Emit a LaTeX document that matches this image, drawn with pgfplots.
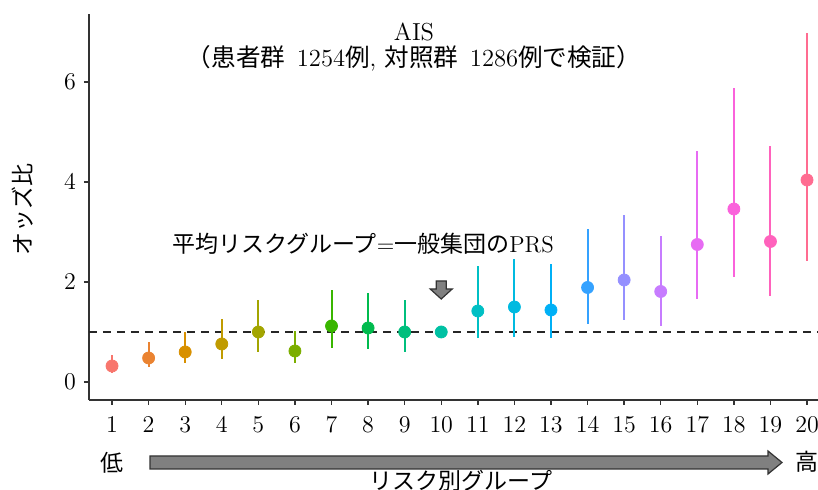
\documentclass[border=0pt]{standalone}
\usepackage{pgfplots}
\pgfplotsset{compat=1.18}
\usepackage{fontspec}
\newfontfamily\jp{Noto Sans CJK JP}
\definecolor{c1}{HTML}{F8766D}
\definecolor{c2}{HTML}{EA8331}
\definecolor{c3}{HTML}{D89000}
\definecolor{c4}{HTML}{C09B00}
\definecolor{c5}{HTML}{A3A500}
\definecolor{c6}{HTML}{7CAE00}
\definecolor{c7}{HTML}{39B600}
\definecolor{c8}{HTML}{00BB4E}
\definecolor{c9}{HTML}{00BF7D}
\definecolor{c10}{HTML}{00C1A3}
\definecolor{c11}{HTML}{00BFC4}
\definecolor{c12}{HTML}{00BAE0}
\definecolor{c13}{HTML}{00B0F6}
\definecolor{c14}{HTML}{35A2FF}
\definecolor{c15}{HTML}{9590FF}
\definecolor{c16}{HTML}{C77CFF}
\definecolor{c17}{HTML}{E76BF3}
\definecolor{c18}{HTML}{FA62DB}
\definecolor{c19}{HTML}{FF62BC}
\definecolor{c20}{HTML}{FF6C91}
\definecolor{axgray}{HTML}{333333}
\newcommand\fs{\fontsize{11.5}{13.5}\selectfont}
\newcommand\fst{\fontsize{12.3}{14}\selectfont}
% group: color, x, OR, +err (upper-OR), -err (OR-lower)
\newcommand\grp[5]{\addplot[color=#1, only marks, mark=*, mark size=3pt,
  mark options={fill=#1,draw=#1},
  error bars/.cd, y dir=both, y explicit, error mark=none,
  error bar style={line width=1pt, color=#1}]
  coordinates {(#2,#3) += (0,#4) -= (0,#5)};}
\begin{document}
\begin{tikzpicture}
\path[use as bounding box] (-44.5pt,-45pt) rectangle (364.5pt,200pt);
\begin{axis}[at={(0pt,0pt)}, anchor=south west,
  scale only axis, width=364.5pt, height=193pt,
  xmin=0.37, xmax=20.3, ymin=-0.36, ymax=7.36,
  axis x line*=bottom, axis y line*=left,
  xtick={1,...,20}, ytick={0,2,4,6},
  tick align=outside, major tick length=2.5pt,
  axis line style={line width=0.9pt, color=axgray},
  tick style={line width=0.7pt, color=axgray},
  ticklabel style={font=\fs, text=black},
  xticklabel style={yshift=-2.5pt},
  yticklabel style={xshift=-0.5pt},
  clip=false]
\addplot[black!85, line width=0.8pt, dash pattern=on 4pt off 3pt, forget plot]
  coordinates {(0.37,1) (20.3,1)};
\grp{c1}{1}{0.32}{0.22}{0.14}
\grp{c2}{2}{0.48}{0.32}{0.18}
\grp{c3}{3}{0.60}{0.40}{0.22}
\grp{c4}{4}{0.76}{0.50}{0.30}
\grp{c5}{5}{1.00}{0.64}{0.40}
\grp{c6}{6}{0.62}{0.40}{0.24}
\grp{c7}{7}{1.12}{0.72}{0.44}
\grp{c8}{8}{1.08}{0.70}{0.42}
\grp{c9}{9}{1.00}{0.64}{0.40}
\grp{c10}{10}{1.00}{0}{0}
\grp{c11}{11}{1.42}{0.90}{0.54}
\grp{c12}{12}{1.50}{0.96}{0.60}
\grp{c13}{13}{1.44}{0.92}{0.56}
\grp{c14}{14}{1.89}{1.17}{0.73}
\grp{c15}{15}{2.04}{1.30}{0.80}
\grp{c16}{16}{1.81}{1.11}{0.70}
\grp{c17}{17}{2.75}{1.86}{1.10}
\grp{c18}{18}{3.46}{2.42}{1.37}
\grp{c19}{19}{2.81}{1.90}{1.10}
\grp{c20}{20}{4.04}{2.94}{1.63}
\end{axis}
% titles
\node[font=\fst] at (162.5pt,184pt) {AIS};
\node[font=\fst] at (162.5pt,171pt) {{\jp （患者群}\hspace{0.15em} 1254{\jp 例}, {\jp 対照群}\hspace{0.15em} 1286{\jp 例で検証）}};
% y label
\node[font=\fs, rotate=90] at (-33pt,95pt) {\jp オッズ比};
% annotation
\node[font=\fs] at (137pt,78pt) {{\jp 平均リスクグループ}={\jp 一般集団の}PRS};
\filldraw[fill=black!50, draw=axgray, line width=0.6pt]
  (173.6pt,59.5pt) -- (178.6pt,59.5pt) -- (178.6pt,55.5pt) -- (181.6pt,55.5pt)
  -- (176.1pt,50.5pt) -- (170.6pt,55.5pt) -- (173.6pt,55.5pt) -- cycle;
% bottom arrow
\filldraw[fill=black!50, draw=axgray, line width=0.6pt]
  (30.5pt,-28pt) -- (339.5pt,-28pt) -- (339.5pt,-25.5pt) -- (346.5pt,-31.25pt)
  -- (339.5pt,-37pt) -- (339.5pt,-34.5pt) -- (30.5pt,-34.5pt) -- cycle;
\node[font=\fs] at (11.5pt,-31.5pt) {\jp 低};
\node[font=\fs] at (359pt,-31pt) {\jp 高};
\node[font=\fs] at (186pt,-40.3pt) {\jp リスク別グループ};
\end{tikzpicture}
\end{document}
